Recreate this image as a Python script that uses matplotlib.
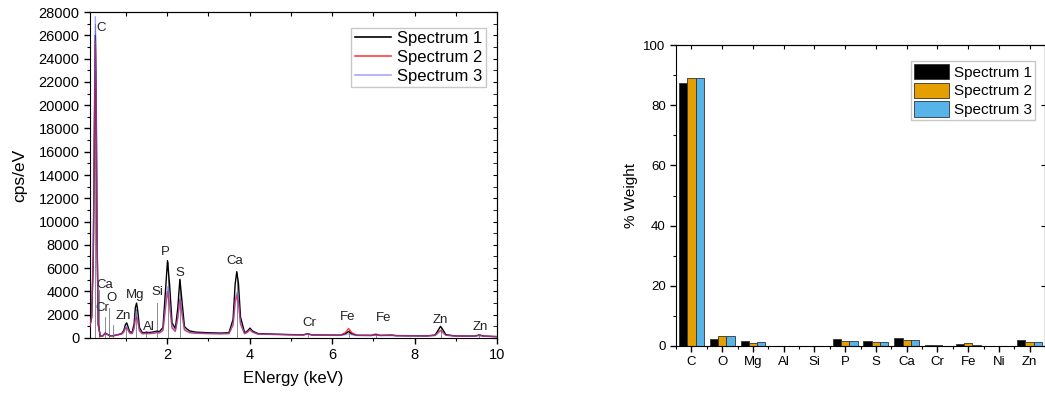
import matplotlib.pyplot as plt
import numpy as np
from matplotlib.ticker import MultipleLocator, FixedLocator

plt.rcParams['font.family'] = ['Liberation Sans', 'DejaVu Sans']

# EDS spectra (energy in keV, counts in cps/eV)
energy = [0.12, 0.17, 0.21, 0.24, 0.26, 0.28, 0.30, 0.33, 0.38, 0.44,
          0.50, 0.56, 0.62, 0.70, 0.80, 0.90, 0.95, 0.99, 1.02, 1.05,
          1.09, 1.15, 1.20, 1.23, 1.26, 1.29, 1.33, 1.40, 1.49, 1.58,
          1.67, 1.74, 1.82, 1.90, 1.96, 2.01, 2.06, 2.12, 2.20, 2.26,
          2.31, 2.36, 2.42, 2.47, 2.55, 2.70, 3.00, 3.30, 3.50, 3.60,
          3.65, 3.69, 3.73, 3.78, 3.88, 3.95, 4.01, 4.07, 4.20, 4.60,
          5.00, 5.30, 5.41, 5.52, 5.80, 6.20, 6.32, 6.40, 6.48, 6.60,
          6.95, 7.06, 7.17, 7.45, 7.55, 7.80, 8.30, 8.50, 8.58, 8.63,
          8.68, 8.76, 9.00, 9.45, 9.57, 9.69, 10.0]
spectrum1 = [900, 1800, 7000, 19000, 26000, 21000, 9000, 1200, 150, 180,
             420, 300, 180, 200, 280, 380, 650, 1150, 1300, 1000,
             550, 450, 1200, 2600, 3000, 2300, 900, 450, 480, 470,
             520, 580, 560, 900, 4000, 6640, 4600, 1300, 800, 2600,
             5040, 3200, 1000, 800, 600, 500, 450, 420, 450, 1600,
             4600, 5700, 4700, 1800, 450, 600, 850, 600, 380, 330,
             290, 270, 360, 260, 250, 240, 350, 560, 350, 230,
             220, 290, 220, 240, 200, 190, 180, 250, 700, 1000,
             750, 280, 170, 160, 260, 160, 120]
spectrum2 = [850, 1700, 6500, 18000, 25500, 20000, 8500, 1100, 130, 170,
             400, 280, 170, 190, 260, 330, 500, 820, 900, 700,
             420, 360, 800, 1600, 1800, 1400, 600, 350, 380, 370,
             400, 450, 430, 650, 2500, 4000, 2800, 850, 560, 1700,
             3300, 2100, 700, 580, 450, 400, 370, 350, 370, 1100,
             3000, 3700, 3050, 1200, 360, 500, 700, 500, 330, 300,
             270, 260, 360, 250, 240, 240, 450, 820, 450, 240,
             230, 340, 230, 250, 210, 200, 180, 220, 500, 650,
             520, 240, 160, 150, 220, 150, 110]
spectrum3 = [950, 1900, 7500, 21000, 27600, 23000, 10000, 1300, 160, 180,
             430, 300, 180, 200, 270, 350, 560, 920, 1000, 780,
             470, 400, 900, 1850, 2100, 1600, 700, 400, 420, 410,
             440, 500, 480, 720, 2800, 4400, 3100, 950, 620, 1800,
             3400, 2200, 750, 620, 480, 430, 400, 380, 400, 1200,
             3200, 3900, 3250, 1300, 380, 530, 750, 530, 350, 310,
             270, 250, 330, 240, 230, 220, 280, 360, 280, 210,
             200, 240, 200, 200, 190, 180, 170, 210, 450, 600,
             470, 230, 160, 150, 210, 150, 110]

# element marker lines and their labels
marker_energy = [0.26, 0.36, 0.50, 0.60, 0.68, 1.01, 1.25, 1.49, 1.76,
                 2.01, 2.31, 3.69, 5.41, 6.40, 7.06, 8.63, 9.57]
marker_top = [27000, 4100, 1800, 2600, 1100, 900, 2500, 600, 3000,
              6500, 5000, 5600, 300, 700, 300, 900, 200]
label_text = ['C', 'Ca', 'Cr', 'O', '', 'Zn', 'Mg', 'Al', 'Si',
              'P', 'S', 'Ca', 'Cr', 'Fe', 'Fe', 'Zn', 'Zn']
label_x = [0.40, 0.48, 0.43, 0.65, 0.68, 0.94, 1.23, 1.55, 1.76,
           1.96, 2.30, 3.63, 5.45, 6.38, 7.24, 8.62, 9.60]
label_y = [26600, 4550, 2580, 3440, 0, 1890, 3690, 945, 3950,
           7390, 5580, 6615, 1290, 1800, 1720, 1550, 945]

# quantified composition (% weight)
elements = ['C', 'O', 'Mg', 'Al', 'Si', 'P', 'S', 'Ca', 'Cr', 'Fe', 'Ni', 'Zn']
weight1 = [87.3, 2.4, 1.5, 0.0, 0.0, 2.3, 1.8, 2.6, 0.2, 0.6, 0.0, 1.9]
weight2 = [89.2, 3.2, 1.0, 0.0, 0.0, 1.5, 1.2, 1.9, 0.2, 0.9, 0.0, 1.2]
weight3 = [89.2, 3.3, 1.2, 0.0, 0.0, 1.8, 1.2, 2.1, 0.1, 0.3, 0.0, 1.2]

fig = plt.figure(figsize=(10.45, 3.98), dpi=100)

# ---- spectrum panel ----
ax1 = fig.add_axes([0.0861, 0.1508, 0.3895, 0.819])
for e, top in zip(marker_energy, marker_top):
    ax1.plot([e, e], [0, top], color='#8c8c8c', lw=0.7, zorder=1)
ax1.plot(energy, spectrum1, color='black', lw=1.0, label='Spectrum 1', zorder=2)
ax1.plot(energy, spectrum2, color='red', lw=1.0, alpha=0.75, label='Spectrum 2', zorder=3)
ax1.plot(energy, spectrum3, color='#6060ff', lw=1.0, alpha=0.55, label='Spectrum 3', zorder=4)
for t, x, y in zip(label_text, label_x, label_y):
    if t:
        ax1.text(x, y, t, fontsize=9.5, ha='center', va='center', color='#222222')

ax1.set_xlim(0.13, 10)
ax1.set_ylim(0, 28000)
ax1.xaxis.set_major_locator(FixedLocator([2, 4, 6, 8, 10]))
ax1.xaxis.set_minor_locator(MultipleLocator(1))
ax1.yaxis.set_major_locator(MultipleLocator(2000))
ax1.yaxis.set_minor_locator(MultipleLocator(1000))
ax1.tick_params(which='both', direction='out', labelsize=10.5, top=False, right=False)
ax1.tick_params(which='major', length=4, width=1)
ax1.tick_params(which='minor', length=2.5, width=0.8)
ax1.set_xlabel('ENergy (keV)', fontsize=12, labelpad=6)
ax1.set_ylabel('cps/eV', fontsize=12.5, labelpad=8)
sec = ax1.secondary_xaxis('top')
sec.set_xticks(np.arange(1, 11))
sec.tick_params(direction='in', length=3, labeltop=False)
sr = ax1.secondary_yaxis('right')
sr.yaxis.set_major_locator(MultipleLocator(2000))
sr.yaxis.set_minor_locator(MultipleLocator(1000))
sr.tick_params(which='both', direction='in', labelright=False, length=3)
leg1 = ax1.legend(loc='upper right', bbox_to_anchor=(0.973, 0.951), borderaxespad=0,
                  fontsize=12, handlelength=2.2, handletextpad=0.35, labelspacing=0.22,
                  borderpad=0.2, fancybox=False, framealpha=1, edgecolor='#c8c8c8')
for line in leg1.get_lines():
    line.set_linewidth(1.2)

# ---- composition panel ----
ax2 = fig.add_axes([0.647, 0.1307, 0.353, 0.756])
x = np.arange(len(elements))
w = 0.27
ax2.bar(x - w, weight1, w, color='black', edgecolor='#333333', lw=0.6, label='Spectrum 1')
ax2.bar(x, weight2, w, color='#E69F00', edgecolor='#333333', lw=0.6, label='Spectrum 2')
ax2.bar(x + w, weight3, w, color='#56B4E9', edgecolor='#333333', lw=0.6, label='Spectrum 3')
ax2.set_xlim(-0.5, len(elements) - 0.5)
ax2.set_ylim(0, 100)
ax2.set_xticks(x)
ax2.set_xticklabels(elements)
ax2.xaxis.set_minor_locator(FixedLocator(np.arange(-0.5, len(elements), 1)))
ax2.yaxis.set_major_locator(MultipleLocator(20))
ax2.yaxis.set_minor_locator(MultipleLocator(10))
ax2.tick_params(which='both', direction='out', labelsize=9.5)
ax2.tick_params(which='major', length=4, width=1)
ax2.tick_params(which='minor', length=2.5, width=0.8)
ax2.set_ylabel('% Weight', fontsize=11, labelpad=4)
st = ax2.secondary_xaxis('top')
st.set_xticks(x)
st.tick_params(direction='in', length=3, labeltop=False)
sr2 = ax2.secondary_yaxis('right')
sr2.set_yticks([0, 20, 40, 60, 80, 100])
sr2.tick_params(direction='in', length=3, labelright=False)
ax2.legend(loc='upper right', bbox_to_anchor=(0.973, 0.948), borderaxespad=0,
           fontsize=11, handlelength=2.3, handleheight=1.15, handletextpad=0.3,
           labelspacing=0.2, borderpad=0.2, fancybox=False, framealpha=1,
           edgecolor='#c8c8c8')

fig.savefig('out.png', dpi=100)
